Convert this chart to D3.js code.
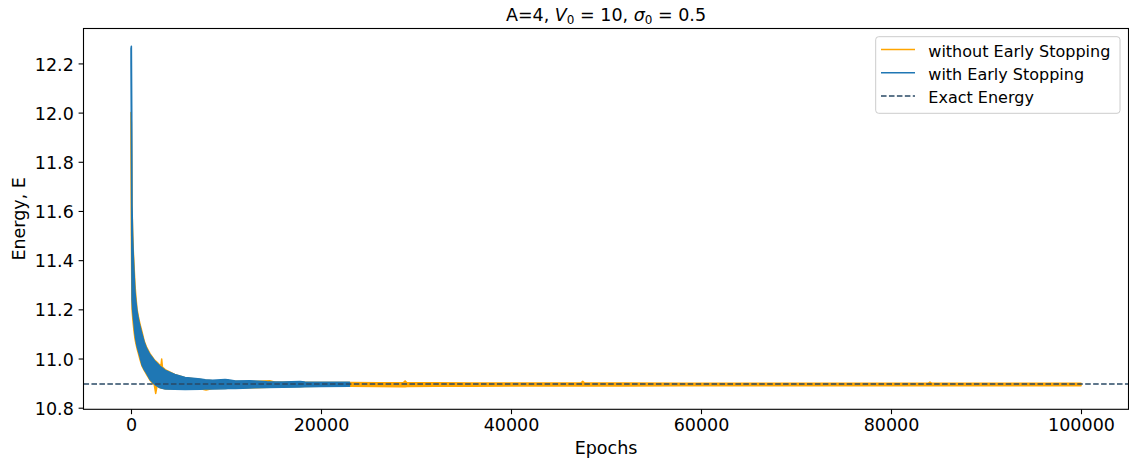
<!DOCTYPE html>
<html>
<head>
<meta charset="utf-8">
<script src="https://cdn.jsdelivr.net/npm/d3@7/dist/d3.min.js"></script>
<style>
  html, body { margin: 0; padding: 0; background: #fff; }
  svg { display: block; font-family: "DejaVu Sans", sans-serif; }
</style>
</head>
<body>
<svg id="chart" width="1129" height="459"></svg>
<script>
// Training energy per epoch. The raw curves are very noisy, so each run is
// stored as the upper and lower edge of its noise band at sampled epochs.
const withoutEpochs = [0, 40, 80, 110, 170, 240, 320, 420, 520, 640,
  780, 950, 1150, 1400, 1650, 2000, 2450, 2600, 2750, 3000,
  3150, 3230, 3310, 3600, 4600, 5700, 7300, 7900, 8600, 10400,
  12500, 14600, 15200, 15800, 17000, 20000, 23000, 26000, 28650, 28850,
  29050, 32000, 36000, 40000, 44000, 47350, 47550, 47750, 52000, 58000,
  64000, 70000, 76000, 83900, 84100, 84300, 90000, 95000, 99999];
const withoutHigh = [12.0, 11.96, 11.80, 11.62, 11.52, 11.44, 11.38, 11.30, 11.25, 11.20,
  11.17, 11.14, 11.11, 11.07, 11.045, 11.02, 10.995, 10.99, 10.985, 10.975,
  10.97, 10.998, 10.965, 10.955, 10.935, 10.922, 10.915, 10.912, 10.91, 10.908,
  10.906, 10.91, 10.904, 10.904, 10.903, 10.902, 10.902, 10.901, 10.901, 10.909,
  10.901, 10.901, 10.9, 10.9, 10.9, 10.9, 10.907, 10.9, 10.9, 10.899,
  10.899, 10.899, 10.899, 10.899, 10.904, 10.899, 10.899, 10.899, 10.899];
const withoutLow = [11.87, 11.5, 11.3, 11.2, 11.17, 11.14, 11.11, 11.08, 11.06, 11.04,
  11.02, 10.995, 10.97, 10.952, 10.935, 10.912, 10.893, 10.858, 10.89, 10.884,
  10.88, 10.879, 10.879, 10.877, 10.876, 10.876, 10.877, 10.872, 10.878, 10.879,
  10.881, 10.883, 10.884, 10.885, 10.886, 10.887, 10.887, 10.886, 10.885, 10.885,
  10.886, 10.887, 10.887, 10.888, 10.888, 10.888, 10.888, 10.888, 10.888, 10.889,
  10.889, 10.889, 10.889, 10.889, 10.889, 10.889, 10.889, 10.889, 10.889];

const withEpochs = [0, 40, 80, 110, 170, 240, 320, 420, 520, 640,
  780, 950, 1150, 1400, 1650, 2000, 2500, 3000, 3600, 4600,
  5700, 7300, 7800, 8600, 9900, 10200, 11000, 12500, 13000, 14300,
  16000, 17800, 18300, 20000, 23000];
const withHigh = [12.26, 12.27, 12.0, 11.62, 11.50, 11.42, 11.35, 11.27, 11.23, 11.19,
  11.16, 11.13, 11.10, 11.065, 11.04, 11.015, 10.99, 10.97, 10.952, 10.935,
  10.923, 10.917, 10.914, 10.912, 10.915, 10.914, 10.909, 10.91, 10.909, 10.906,
  10.905, 10.907, 10.905, 10.904, 10.903];
const withLow = [12.20, 11.90, 11.45, 11.24, 11.20, 11.17, 11.14, 11.10, 11.075, 11.05,
  11.03, 11.007, 10.975, 10.955, 10.94, 10.915, 10.895, 10.882, 10.876, 10.875,
  10.874, 10.875, 10.876, 10.876, 10.877, 10.878, 10.878, 10.88, 10.881, 10.882,
  10.883, 10.884, 10.885, 10.886, 10.887];

const exactEnergy = 10.896;

const epochTicks = [0, 20000, 40000, 60000, 80000, 100000];
const energyTicks = [10.8, 11.0, 11.2, 11.4, 11.6, 11.8, 12.0, 12.2];

const seriesNames = ["without Early Stopping", "with Early Stopping", "Exact Energy"];
const seriesColors = ["#ffa500", "#1f77b4", "#2a4a66"];

// ---- layout ----
const svg = d3.select("#chart");
const margin = { left: 83.5, right: 1128.5, top: 28.5, bottom: 409.3 };

const x = d3.scaleLinear().domain([-5000, 105000]).range([margin.left, margin.right]);
const y = d3.scaleLinear().domain([10.7935, 12.342]).range([margin.bottom, margin.top]);

svg.append("defs").append("clipPath").attr("id", "plot-clip")
  .append("rect")
  .attr("x", margin.left).attr("y", margin.top)
  .attr("width", margin.right - margin.left)
  .attr("height", margin.bottom - margin.top);

const plot = svg.append("g").attr("clip-path", "url(#plot-clip)");

function band(epochs, high, low) {
  return epochs.map((e, i) => ({ e, hi: high[i], lo: low[i] }));
}

const area = d3.area()
  .x(d => x(d.e))
  .y0(d => y(d.lo))
  .y1(d => y(d.hi));

function drawRun(data, color) {
  plot.append("path")
    .datum(data)
    .attr("d", area)
    .attr("fill", color)
    .attr("stroke", color)
    .attr("stroke-width", 1.5)
    .attr("stroke-linejoin", "round");
}

drawRun(band(withoutEpochs, withoutHigh, withoutLow), seriesColors[0]);
drawRun(band(withEpochs, withHigh, withLow), seriesColors[1]);

// reference energy
plot.append("line")
  .attr("x1", margin.left).attr("x2", margin.right)
  .attr("y1", y(exactEnergy)).attr("y2", y(exactEnergy))
  .attr("stroke", seriesColors[2])
  .attr("stroke-width", 1.5)
  .attr("stroke-dasharray", "5.55,2.4");

// ---- axes ----
const tickSize = 4.9;
const tickFont = "17.5px";

const xAxis = d3.axisBottom(x).tickValues(epochTicks).tickFormat(d3.format("d"))
  .tickSize(tickSize).tickPadding(4.6);
const gx = svg.append("g").attr("transform", `translate(0,${margin.bottom})`).call(xAxis);
gx.select(".domain").remove();
gx.selectAll(".tick line").attr("stroke", "#000").attr("stroke-width", 1.1);
gx.selectAll(".tick text").attr("font-size", tickFont).attr("font-family", "DejaVu Sans")
  .attr("fill", "#000").attr("dy", "0.72em");

const yAxis = d3.axisLeft(y).tickValues(energyTicks).tickFormat(d3.format(".1f"))
  .tickSize(tickSize).tickPadding(4.8);
const gy = svg.append("g").attr("transform", `translate(${margin.left},0)`).call(yAxis);
gy.select(".domain").remove();
gy.selectAll(".tick line").attr("stroke", "#000").attr("stroke-width", 1.1);
gy.selectAll(".tick text").attr("font-size", tickFont).attr("font-family", "DejaVu Sans")
  .attr("fill", "#000").attr("dy", "0.38em");

// frame
svg.append("rect")
  .attr("x", margin.left).attr("y", margin.top)
  .attr("width", margin.right - margin.left)
  .attr("height", margin.bottom - margin.top)
  .attr("fill", "none").attr("stroke", "#000").attr("stroke-width", 1.1);

// axis titles
svg.append("text")
  .attr("x", (margin.left + margin.right) / 2).attr("y", 454)
  .attr("text-anchor", "middle").attr("font-size", "17.5px").attr("fill", "#000")
  .text("Epochs");

svg.append("text")
  .attr("transform", `translate(25,${(margin.top + margin.bottom) / 2}) rotate(-90)`)
  .attr("text-anchor", "middle").attr("font-size", "17.5px").attr("fill", "#000")
  .text("Energy, E");

// title with math-style italics and subscripts
const title = svg.append("text")
  .attr("x", (margin.left + margin.right) / 2).attr("y", 21)
  .attr("text-anchor", "middle").attr("font-size", "17.5px").attr("fill", "#000");
title.append("tspan").text("A=4, ");
title.append("tspan").attr("font-style", "italic").text("V");
title.append("tspan").attr("font-size", "12px").attr("dy", "3").text("0");
title.append("tspan").attr("dy", "-3").text(" = 10, ");
title.append("tspan").attr("font-style", "italic").text("σ");
title.append("tspan").attr("font-size", "12px").attr("dy", "3").text("0");
title.append("tspan").attr("dy", "-3").text(" = 0.5");

// ---- legend ----
const legend = svg.append("g");
legend.append("rect")
  .attr("x", 875.7).attr("y", 36.7).attr("width", 244.3).attr("height", 76.6)
  .attr("rx", 3).attr("ry", 3)
  .attr("fill", "#fff").attr("fill-opacity", 0.8)
  .attr("stroke", "#cccccc").attr("stroke-width", 1);

const rowBaselines = [56.7, 80, 103.3];
seriesNames.forEach((name, i) => {
  const yb = rowBaselines[i];
  const ln = legend.append("line")
    .attr("x1", 881).attr("x2", 915)
    .attr("y1", yb - 7.2).attr("y2", yb - 7.2)
    .attr("stroke", seriesColors[i]).attr("stroke-width", 1.5);
  if (i === 2) ln.attr("stroke-dasharray", "5.55,2.4");
  legend.append("text")
    .attr("x", 928.3).attr("y", yb)
    .attr("font-size", "16px").attr("fill", "#000")
    .text(name);
});
</script>
</body>
</html>
